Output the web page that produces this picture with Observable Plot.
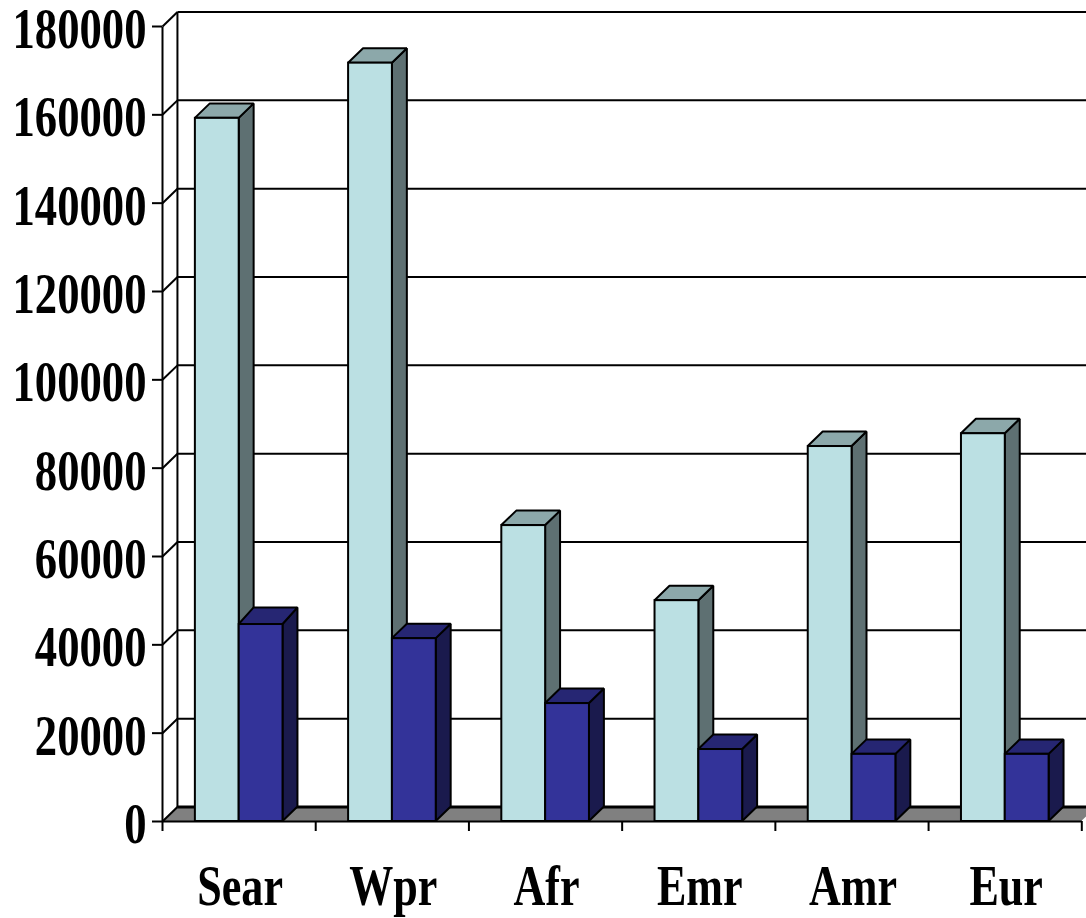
<!DOCTYPE html>
<html>
<head>
<meta charset="utf-8">
<style>
html,body{margin:0;padding:0;background:#fff;overflow:hidden}
svg{display:block}
</style>
<script src="https://cdn.jsdelivr.net/npm/d3@7"></script>
<script src="https://cdn.jsdelivr.net/npm/@observablehq/plot@0.6"></script>
</head>
<body>
<div id="chart"></div>
<script>
const categories = ["Sear", "Wpr", "Afr", "Emr", "Amr", "Eur"];
const lightValues = [159200, 171700, 67000, 50000, 84900, 87800];
const darkValues = [44600, 41400, 26700, 16300, 15200, 15200];
const yTicks = [0, 20000, 40000, 60000, 80000, 100000, 120000, 140000, 160000, 180000];
const xBounds = [0, 1, 2, 3, 4, 5, 6];

// 3-D look, in data units
const depthX = 0.0975;
const depthY = 3280;
const lightDepthY = [3280, 3280, 3280, 3280, 3280, 3280];
const darkDepthY = [3750, 3280, 3280, 3280, 3280, 3280];
const barLeft = 0.2146;
const barWidth = 0.286;
const squeezeY = 0.77;
const squeezeX = 0.76;

const colors = {
  light: {front: "#BBE0E3", side: "#5E7072", top: "#8CA8AA"},
  dark: {front: "#333399", side: "#1A1A4D", top: "#262673"}
};

function faces(values, depths, offset) {
  return values.map((v, i) => {
    const l = i + barLeft + offset, r = l + barWidth, d = depths[i];
    return {
      id: i, l, r, v,
      side: [
        {id: i, x1: r, x2: r, y1: 0, y2: v},
        {id: i, x1: r + depthX, x2: r + depthX, y1: depthY, y2: v + d}
      ],
      top: [
        {id: i, x1: l, x2: r, y1: v, y2: v},
        {id: i, x1: l + depthX, x2: r + depthX, y1: v + d, y2: v + d}
      ]
    };
  });
}

const lightBars = faces(lightValues, lightDepthY, 0);
const darkBars = faces(darkValues, darkDepthY, barWidth);

function barMarks(bars, c) {
  const edge = {x1: "x1", x2: "x2", y1: "y1", y2: "y2", z: "id", stroke: "black", strokeWidth: 2, strokeLinejoin: "miter"};
  return [
    Plot.area(bars.flatMap(b => b.side), {...edge, fill: c.side}),
    Plot.area(bars.flatMap(b => b.top), {...edge, fill: c.top}),
    Plot.rect(bars, {x1: "l", x2: "r", y1: 0, y2: "v", fill: c.front, stroke: "black", strokeWidth: 2})
  ];
}

const black = {stroke: "black", strokeWidth: 2};

const plot = Plot.plot({
  width: 1086,
  height: 918,
  marginLeft: 162,
  marginRight: 4.7,
  marginTop: 26,
  marginBottom: 97,
  style: {background: "white", overflow: "hidden"},
  x: {domain: [0, 6], axis: null},
  y: {domain: [0, 180000], axis: null},
  marks: [
    // floor
    Plot.area([
      {x1: 0, x2: 6, y1: 0, y2: 0},
      {x1: depthX, x2: 6 + depthX, y1: depthY, y2: depthY}
    ], {x1: "x1", x2: "x2", y1: "y1", y2: "y2", fill: "#808080"}),
    // back-wall gridlines
    Plot.link(yTicks, {x1: depthX, x2: 6 + depthX, y1: d => d + depthY, y2: d => d + depthY, stroke: "black", strokeWidth: d => d === 0 ? 3 : 2}),
    // left wall
    Plot.link(yTicks, {x1: 0, x2: depthX, y1: d => d, y2: d => d + depthY, ...black}),
    Plot.link([0], {x1: 0, x2: 0, y1: 0, y2: 180000, ...black}),
    Plot.link([0], {x1: depthX, x2: depthX, y1: depthY, y2: 180000 + depthY, ...black}),
    // bars
    ...barMarks(lightBars, colors.light),
    ...barMarks(darkBars, colors.dark),
    // front baseline
    Plot.link([0], {x1: 0, x2: 6, y1: 0, y2: 0, ...black}),
    // ticks
    Plot.axisY({ticks: yTicks, tickSize: 10, tickFormat: () => "", strokeWidth: 2, stroke: "black"}),
    Plot.axisX({ticks: xBounds, tickSize: 10, tickFormat: () => "", strokeWidth: 2, stroke: "black"}),
    // labels
    Plot.text(yTicks, {
      x: () => 0, y: d => d, text: d => String(d), textAnchor: "end", dx: -16, dy: 3,
      fontFamily: "Liberation Serif", fontWeight: "bold", fontSize: 58, fill: "black", className: "squeezedY"
    }),
    Plot.text(categories, {
      x: (d, i) => i + 0.5, y: () => 0, text: d => d, textAnchor: "middle", dx: 1, dy: 65,
      fontFamily: "Liberation Serif", fontWeight: "bold", fontSize: 58, fill: "black", className: "squeezedX"
    })
  ]
});

document.getElementById("chart").append(plot);

// Narrow the serif glyphs to the condensed proportions of the original lettering.
function squeezeText(selector, factor) {
  plot.querySelectorAll(selector).forEach(t => {
    t.setAttribute("textLength", t.getComputedTextLength() * factor);
    t.setAttribute("lengthAdjust", "spacingAndGlyphs");
  });
}
squeezeText(".squeezedY text", squeezeY);
squeezeText(".squeezedX text", squeezeX);
</script>
</body>
</html>
